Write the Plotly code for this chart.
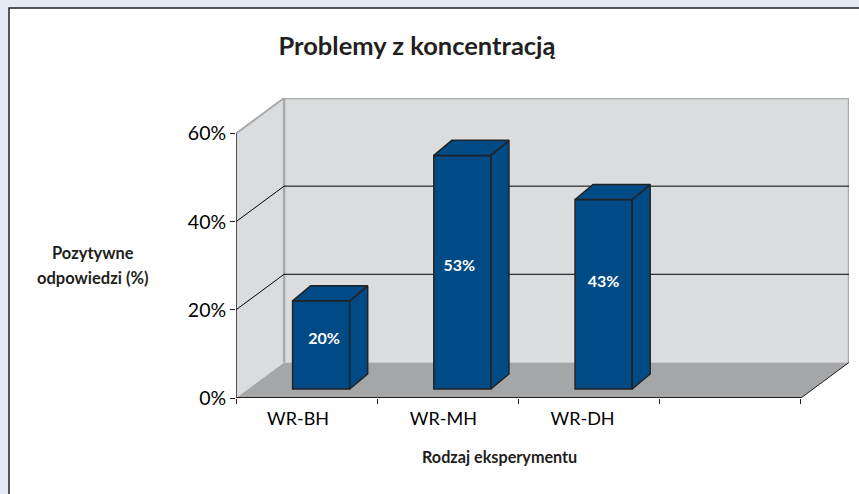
import plotly.graph_objects as go

# data
categories = ["WR-BH", "WR-MH", "WR-DH"]
values = [20, 53, 43]
y_ticks = [0, 20, 40, 60]
y_tick_labels = ["0%", "20%", "40%", "60%"]
grid_values = [20, 40]
title = "Problemy z koncentracją"
y_title_lines = ["Pozytywne", "odpowiedzi (%)"]
x_title = "Rodzaj eksperymentu"

# styling / layout
W, H = 859, 494
L, R, T, B = 236, 10, 98, 96
PX_X, PX_Y = 141.0, 4.4          # pixels per category / per percent
FONT = "Lato"
INK = "#231F20"
BLUE = "#004A86"
WALL = "#DBDCDE"
FLOOR = "#A5A6A8"
EDGE = "#A9AAAC"
LINE = "#222222"
n_slots = 4
depth_x, depth_y = 48 / PX_X, 35.5 / PX_Y
bar_w = 57 / PX_X
bar_dx, bar_dy = 18 / PX_X, 15 / PX_Y
bar_base = 9 / PX_Y
bar_x = [i + 85 / PX_X for i in range(len(values))]
label_lift = [1.1, 1.1, 2.5]
label_nudge = [3, -3, 0]
tick_nudge = [62, 66, 64]
top = y_ticks[-1]


def path_shape(xs, ys, fill):
    d = "M " + " L ".join(f"{x},{y}" for x, y in zip(xs, ys)) + " Z"
    return dict(type="path", path=d, xref="x", yref="y", layer="below",
                fillcolor=fill, line=dict(width=0))


def line_shape(x0, y0, x1, y1, color, width):
    return dict(type="line", x0=x0, y0=y0, x1=x1, y1=y1, xref="x", yref="y", layer="below",
                line=dict(color=color, width=width))


def poly(xs, ys, fill, line=None, width=0):
    return go.Scatter(x=xs, y=ys, mode="lines", fill="toself", fillcolor=fill,
                      line=dict(color=line or fill, width=width),
                      hoverinfo="skip", showlegend=False)


def seg(xs, ys, color, width):
    return go.Scatter(x=xs, y=ys, mode="lines", line=dict(color=color, width=width),
                      hoverinfo="skip", showlegend=False)


backdrop = dict(type="rect", layer="below", xref="paper", yref="paper",
                x0=(9 - L) / (W - L - R), x1=(W + 20 - L) / (W - L - R),
                y0=(H - B - H - 20) / (H - T - B), y1=(H - B - 8) / (H - T - B),
                fillcolor="white", line=dict(color="#222222", width=1.5))

shapes = [
    backdrop,
    path_shape([0, depth_x, depth_x, 0], [0, depth_y, top + depth_y, top], WALL),
    path_shape([depth_x, n_slots + depth_x, n_slots + depth_x, depth_x],
               [depth_y, depth_y, top + depth_y, top + depth_y], WALL),
    path_shape([0, n_slots, n_slots + depth_x, depth_x], [0, 0, depth_y, depth_y], FLOOR),
    line_shape(0, top, depth_x, top + depth_y, EDGE, 2),
    line_shape(depth_x, top + depth_y, n_slots + depth_x, top + depth_y, EDGE, 2.5),
    line_shape(n_slots + depth_x, top + depth_y, n_slots + depth_x, depth_y, EDGE, 2.5),
    line_shape(depth_x, depth_y, depth_x, top + depth_y, EDGE, 2.5),
    line_shape(n_slots, 0, n_slots + depth_x, depth_y, INK, 1),
]
for g in grid_values:
    shapes.append(line_shape(0, g, depth_x, g + depth_y, "#000000", 1))
    shapes.append(line_shape(depth_x, g + depth_y, n_slots + depth_x, g + depth_y, "#000000", 1))

fig = go.Figure()

# front of the bars
fig.add_trace(go.Bar(x=bar_x, y=values, base=bar_base, width=bar_w,
                     marker=dict(color=BLUE, line=dict(color=LINE, width=1.5)),
                     hoverinfo="skip", showlegend=False))

# bar side and top faces
for x, v in zip(bar_x, values):
    x0, x1 = x - bar_w / 2, x + bar_w / 2
    y0, y1 = bar_base, bar_base + v
    fig.add_trace(poly([x1, x1 + bar_dx, x1 + bar_dx, x1, x1],
                       [y0, y0 + bar_dy, y1 + bar_dy, y1, y0], BLUE, LINE, 1.5))
    fig.add_trace(poly([x0, x0 + bar_dx, x1 + bar_dx, x1, x0],
                       [y1, y1 + bar_dy, y1 + bar_dy, y1, y1], BLUE, LINE, 1.5))

# axis lines
fig.add_trace(seg([0, 0], [0, top], INK, 1.5))
fig.add_trace(seg([0, n_slots], [0, 0], INK, 2))

# value labels
fig.add_trace(go.Scatter(x=[x + n / PX_X for x, n in zip(bar_x, label_nudge)],
                         y=[bar_base + v / 2 + lift for v, lift in zip(values, label_lift)],
                         mode="text", text=[f"{v}%" for v in values],
                         textfont=dict(family=FONT, size=16, color="white", weight="bold"),
                         hoverinfo="skip", showlegend=False))

fig.update_layout(
    width=W, height=H,
    margin=dict(l=L, r=R, t=T, b=B, pad=0),
    paper_bgcolor="#E6EAF4",
    plot_bgcolor="rgba(0,0,0,0)",
    font=dict(family=FONT, color=INK),
    title=dict(text=title, x=417 / W, y=1 - 46 / H, xanchor="center", yanchor="middle",
               font=dict(family=FONT, size=25.5, color=INK, weight="bold")),
    xaxis=dict(range=[0, n_slots + depth_x], showgrid=False, zeroline=False, showline=False,
               tickvals=[i + n / PX_X for i, n in zip(range(len(categories)), tick_nudge)],
               ticktext=categories, ticks="", ticklabelstandoff=8,
               tickfont=dict(family=FONT, size=18, color="#000000", weight=400),
               minor=dict(tickvals=list(range(n_slots + 1)), ticks="outside",
                          ticklen=5, tickcolor=INK, tickwidth=1, showgrid=False)),
    yaxis=dict(range=[0, top + depth_y], showgrid=False, zeroline=False, showline=False,
               tickvals=y_ticks, ticktext=y_tick_labels, ticks="outside", ticklen=5,
               tickcolor=INK, tickwidth=1,
               tickfont=dict(family=FONT, size=19.5, color="#000000", weight=400)),
    shapes=shapes,
    annotations=[
        dict(text=y_title_lines[0], xref="paper", yref="paper",
             x=(93 - L) / (W - L - R), y=(H - B - 253) / (H - T - B),
             xanchor="center", yanchor="middle", showarrow=False,
             font=dict(family=FONT, size=16.5, color=INK, weight="bold")),
        dict(text=y_title_lines[1], xref="paper", yref="paper",
             x=(93 - L) / (W - L - R), y=(H - B - 278) / (H - T - B),
             xanchor="center", yanchor="middle", showarrow=False,
             font=dict(family=FONT, size=16.5, color=INK, weight="bold")),
        dict(text=x_title, xref="paper", yref="paper",
             x=(499 - L) / (W - L - R), y=(H - B - 456) / (H - T - B),
             xanchor="center", yanchor="middle", showarrow=False,
             font=dict(family=FONT, size=16.2, color=INK, weight="bold")),
    ],
)

fig.write_html("out.html", config=dict(displayModeBar=False),
               post_script="document.body.style.margin='0';document.body.style.overflow='hidden';")
